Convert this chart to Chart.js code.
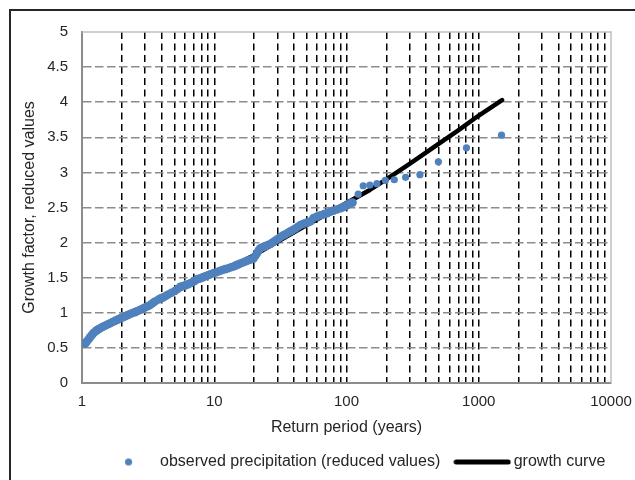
<!DOCTYPE html>
<html>
<head>
<meta charset="utf-8">
<script src="https://cdn.jsdelivr.net/npm/chart.js@4.4.1/dist/chart.umd.min.js"></script>
<style>
  html, body { margin: 0; padding: 0; background: #fff; overflow: hidden; }
  #wrap { position: relative; width: 635px; height: 480px; }
  #frame { position: absolute; left: 9px; top: 9px; width: 700px; height: 700px; border: 2px solid #262626; }
  #c { position: absolute; left: 0; top: 0; }
</style>
</head>
<body>
<div id="wrap">
  <div id="frame"></div>
  <canvas id="c" width="635" height="480"></canvas>
</div>
<script>
// ---- data ----
const obsReturnPeriod = [
  1.054, 1.07, 1.086, 1.118, 1.150, 1.183, 1.218, 1.255, 1.292, 1.33, 1.369, 1.43, 1.494, 1.56, 1.630, 1.70,
  1.778, 1.86, 1.941, 2.03, 2.118, 2.21, 2.310, 2.41, 2.520, 2.63, 2.750, 2.87, 3.000, 3.13, 3.275, 3.41,
  3.554, 3.785, 3.94, 4.108, 4.29, 4.482, 4.75, 5.039, 5.28, 5.526, 5.77, 6.030, 6.30, 6.579, 6.81, 7.054,
  7.432, 7.834, 8.18, 8.548, 8.93, 9.326, 9.88, 10.48, 11.0, 11.50, 12.12, 12.77, 13.37, 14.00, 14.59, 15.20,
  15.88, 16.59, 17.33, 18.10, 18.9, 19.75, 20.4, 21.06, 21.7, 22.31, 23.3, 24.34, 25.4, 26.56, 27.7, 28.98,
  30.3, 31.62, 33.0, 34.50, 36.0, 37.65, 39.3, 41.07, 42.9, 44.82, 46.8, 48.90, 51.1, 53.37, 56.23, 59.7,
  63.53, 67.4, 71.42, 75.5, 79.70, 84.7, 90.05, 94.0, 98.26, 102.7, 107.2, 111.1,
  122.6, 133.8, 150.2, 169.7, 196.6, 229.8, 279.8, 359, 495, 807, 1486
];
const obsGrowth = [
  0.56, 0.575, 0.59, 0.62, 0.65, 0.68, 0.71, 0.73, 0.75, 0.765, 0.78, 0.80, 0.815, 0.833, 0.85, 0.868,
  0.885, 0.903, 0.92, 0.935, 0.95, 0.967, 0.983, 0.997, 1.01, 1.025, 1.04, 1.058, 1.075, 1.093, 1.11, 1.135,
  1.16, 1.19, 1.205, 1.22, 1.24, 1.26, 1.285, 1.31, 1.34, 1.37, 1.38, 1.39, 1.405, 1.42, 1.435, 1.45,
  1.48, 1.49, 1.505, 1.52, 1.535, 1.55, 1.565, 1.58, 1.595, 1.61, 1.622, 1.635, 1.648, 1.66, 1.675, 1.69,
  1.705, 1.72, 1.735, 1.75, 1.76, 1.77, 1.81, 1.85, 1.89, 1.92, 1.935, 1.95, 1.965, 1.98, 2.005, 2.03,
  2.055, 2.08, 2.10, 2.12, 2.14, 2.16, 2.18, 2.20, 2.225, 2.25, 2.265, 2.28, 2.29, 2.30, 2.35, 2.37,
  2.39, 2.405, 2.42, 2.44, 2.455, 2.472, 2.49, 2.505, 2.52, 2.54, 2.56, 2.57,
  2.69, 2.81, 2.82, 2.84, 2.885, 2.895, 2.93, 2.967, 3.15, 3.35, 3.53
];
const curveReturnPeriod = [1.05, 1.2, 1.5, 2, 3, 5, 7, 10, 15, 20, 30, 50, 70, 100, 150, 200, 300, 500, 700, 1000, 1500];
const curveGrowth = [0.56, 0.70, 0.83, 0.95, 1.10, 1.30, 1.43, 1.555, 1.70, 1.82, 2.01, 2.25, 2.40, 2.565, 2.75, 2.90, 3.12, 3.41, 3.60, 3.81, 4.03];

const xMajorTicks = [1, 10, 100, 1000, 10000];
const yTickStep = 0.5;
const seriesNames = ['observed precipitation (reduced values)', 'growth curve'];
const axisTitles = { x: 'Return period (years)', y: 'Growth factor, reduced values' };

// ---- build ----
const xAllTicks = [];
for (let i = 0; i < xMajorTicks.length - 1; i++) {
  for (let k = 1; k <= 9; k++) xAllTicks.push(k * xMajorTicks[i]);
}
xAllTicks.push(xMajorTicks[xMajorTicks.length - 1]);

const obsPoints = obsReturnPeriod.map((t, i) => ({ x: t, y: obsGrowth[i] }));
const curvePoints = curveReturnPeriod.map((t, i) => ({ x: t, y: curveGrowth[i] }));

const BLUE = '#4F81BD';
const TEXT = '#262626';
Chart.defaults.font.family = "'Liberation Sans', Arial, sans-serif";
Chart.defaults.color = TEXT;

// legend symbols
function makeDot() {
  const c = document.createElement('canvas'); c.width = 9; c.height = 9;
  const g = c.getContext('2d'); g.fillStyle = BLUE; g.beginPath(); g.arc(4.5, 4.5, 3.6, 0, Math.PI * 2); g.fill();
  return c;
}
function makeLine() {
  const c = document.createElement('canvas'); c.width = 58; c.height = 8;
  const g = c.getContext('2d'); g.strokeStyle = '#000'; g.lineWidth = 5; g.lineCap = 'round';
  g.beginPath(); g.moveTo(3, 4); g.lineTo(55, 4); g.stroke();
  return c;
}
const legendSymbols = [makeDot(), makeLine()];

const plotFrame = {
  id: 'plotFrame',
  beforeDatasetsDraw(chart) {
    const a = chart.chartArea, ctx = chart.ctx;
    ctx.save();
    ctx.strokeStyle = '#bfbfbf'; ctx.lineWidth = 1.5;
    ctx.beginPath();
    ctx.moveTo(a.left, a.top); ctx.lineTo(a.right, a.top); ctx.lineTo(a.right, a.bottom);
    ctx.stroke();
    ctx.restore();
  }
};

new Chart(document.getElementById('c'), {
  type: 'scatter',
  data: {
    datasets: [
      {
        label: seriesNames[0],
        data: obsPoints,
        backgroundColor: BLUE,
        borderColor: BLUE,
        borderWidth: 0,
        pointRadius: (ctx) => (ctx.raw && ctx.raw.x > 115) ? 3.6 : 4.3,
        pointHoverRadius: 3.6,
        order: 0
      },
      {
        type: 'line',
        label: seriesNames[1],
        data: curvePoints,
        borderColor: '#000',
        backgroundColor: '#000',
        borderWidth: 4.5,
        pointRadius: 0,
        fill: false,
        tension: 0,
        borderCapStyle: 'round',
        borderJoinStyle: 'round',
        order: 1
      }
    ]
  },
  options: {
    responsive: false,
    animation: false,
    layout: { padding: { top: 32, left: 0, right: 11.2, bottom: 0 } },
    scales: {
      x: {
        type: 'logarithmic',
        min: 1, max: 10000,
        afterBuildTicks(s) { s.ticks = xAllTicks.map(v => ({ value: v, major: xMajorTicks.includes(v) })); },
        afterFit(s) { s.height = 52.5; s.paddingLeft = 0; s.paddingRight = 0; },
        ticks: {
          autoSkip: false, maxRotation: 0, padding: 10,
          font: { size: 15 }, color: TEXT,
          callback: (v) => xMajorTicks.includes(v) ? String(v) : ''
        },
        grid: {
          drawTicks: false,
          lineWidth: 1.5,
          color: (ctx) => (ctx.tick && (ctx.tick.value === 1 || ctx.tick.value === 10000)) ? 'rgba(0,0,0,0)' : '#000'
        },
        border: { display: true, color: '#8c8c8c', width: 2, dash: [7, 4.5] },
        title: { display: true, text: axisTitles.x, font: { size: 16 }, color: TEXT, padding: { top: 0, bottom: -2.1 } }
      },
      y: {
        type: 'linear',
        position: 'left',
        min: 0, max: 5,
        afterFit(s) { s.width = 82; },
        ticks: { stepSize: yTickStep, padding: 14, font: { size: 15 }, color: TEXT, callback: (v) => String(Math.round(v * 10) / 10) },
        grid: {
          drawTicks: false,
          lineWidth: 1.5,
          color: (ctx) => (ctx.tick && (ctx.tick.value === 0 || ctx.tick.value === 5)) ? 'rgba(0,0,0,0)' : '#8c8c8c'
        },
        border: { display: true, color: '#8c8c8c', width: 2, dash: [8.5, 3.5] },
        title: { display: true, text: axisTitles.y, font: { size: 16 }, color: TEXT, padding: { top: 20.4, bottom: 0 } }
      },
      yR: {
        type: 'linear',
        position: 'right',
        display: true,
        afterFit(s) { s.width = 12.8; },
        ticks: { display: false },
        grid: { display: false, drawTicks: false },
        border: { display: false }
      }
    },
    plugins: {
      tooltip: { enabled: false },
      legend: {
        position: 'bottom',
        align: 'end',
        labels: {
          usePointStyle: true,
          pointStyleWidth: 47,
          padding: 18.5,
          font: { size: 16 },
          color: TEXT,
          generateLabels(chart) {
            const items = Chart.defaults.plugins.legend.labels.generateLabels(chart);
            items.forEach((it, i) => { it.pointStyle = legendSymbols[i]; it.fontColor = TEXT; });
            return items;
          }
        }
      }
    }
  },
  plugins: [plotFrame]
});
</script>
</body>
</html>
